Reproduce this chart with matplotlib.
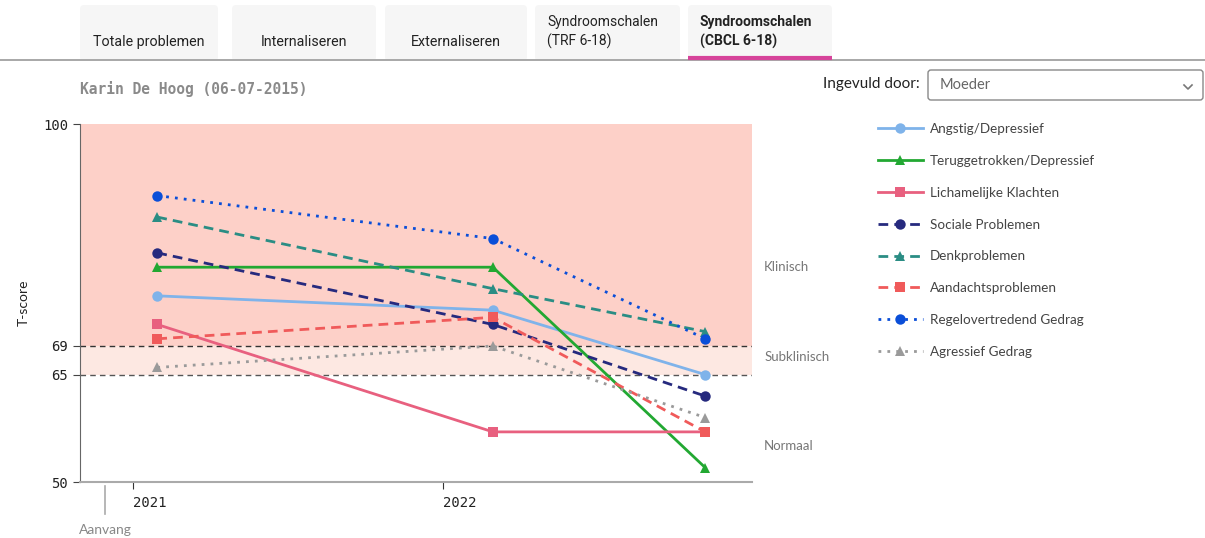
import matplotlib
matplotlib.use("Agg")
import matplotlib.pyplot as plt
import matplotlib.dates as mdates
from matplotlib.patches import FancyBboxPatch, Rectangle
import datetime as dt

# ---------------- data ----------------
dates = ["2021-01-30", "2022-03-01", "2022-11-06"]
start_date = "2020-11-30"  # "Aanvang"
series_names = ["Angstig/Depressief", "Teruggetrokken/Depressief", "Lichamelijke Klachten",
                "Sociale Problemen", "Denkproblemen", "Aandachtsproblemen",
                "Regelovertredend Gedrag", "Agressief Gedrag"]
angstig = [76, 74, 65]
teruggetrokken = [80, 80, 52]
lichamelijk = [72, 57, 57]
sociaal = [82, 72, 62]
denk = [87, 77, 71]
aandacht = [70, 73, 57]
regel = [90, 84, 70]
agressief = [66, 69, 59]
series_values = [angstig, teruggetrokken, lichamelijk, sociaal, denk, aandacht, regel, agressief]
y_ticks = [50, 65, 69, 100]
x_tick_labels = ["2021", "2022"]
zone_labels = ["Klinisch", "Subklinisch", "Normaal"]
tabs = ["Totale problemen", "Internaliseren", "Externaliseren",
        "Syndroomschalen\n(TRF 6-18)", "Syndroomschalen\n(CBCL 6-18)"]

colors = ["#7fb3ea", "#22a832", "#e8607f", "#262a7e", "#2a8d84", "#f05a5a", "#0a4ed8", "#9a9a9a"]
styles = ["-", "-", "-", (0, (3.5, 2.2)), (0, (3.5, 2.2)), (0, (3.5, 2.2)), (0, (1, 2.2)), (0, (1, 2.2))]
markers = ["o", "^", "s", "o", "^", "s", "o", "^"]

W, H = 1205, 538
fig = plt.figure(figsize=(W / 100, H / 100), dpi=100)

# background overlay in pixel coordinates
bg = fig.add_axes([0, 0, 1, 1], zorder=-5)
bg.set_xlim(0, W)
bg.set_ylim(H, 0)
bg.axis("off")

# tabs
tab_x = [(80, 218), (232, 376), (385, 527), (535, 680), (688, 832)]
for i, (t, (x0, x1)) in enumerate(zip(tabs, tab_x)):
    bg.add_patch(FancyBboxPatch((x0, 5), x1 - x0, 56, boxstyle="round,pad=0,rounding_size=4",
                                fc="#f6f6f6", ec="none"))
    bold = (i == len(tabs) - 1)
    if "\n" in t:
        bg.text(x0 + 12, 32, t, ha="left", va="center", fontsize=10, family="Roboto",
                color="#222", fontweight="bold" if bold else "normal", linespacing=1.45)
    else:
        bg.text((x0 + x1) / 2, 42, t, ha="center", va="center", fontsize=10.3, family="Roboto",
                color="#222")
bg.add_patch(Rectangle((0, 58.5), W, 2.5, fc="#ffffff", ec="none"))
bg.plot([0, W], [59.5, 59.5], color="#9a9a9a", lw=1.2)
bg.plot([688, 832], [57.5, 57.5], color="#d6449a", lw=3, solid_capstyle="butt")

# title
bg.text(80, 89, "Karin De Hoog (06-07-2015)", ha="left", va="center", fontsize=10.5,
        family="DejaVu Sans Mono", fontweight="bold", color="#8a8a8a")

# dropdown
bg.text(920, 84, "Ingevuld door:", ha="right", va="center", fontsize=11, family="Lato", color="#222")
bg.add_patch(FancyBboxPatch((928, 70), 275, 30, boxstyle="round,pad=0,rounding_size=3",
                            fc="white", ec="#888888", lw=1))
bg.text(940, 85, "Moeder", ha="left", va="center", fontsize=10.5, family="Lato", color="#666")
bg.plot([1184, 1188, 1192], [85, 89, 85], color="#777", lw=1.2)

# main axes
ax = fig.add_axes([80 / W, 1 - 482 / H, (752 - 80) / W, (482 - 124) / H])
ax.set_ylim(50, 100)
ax.set_xlim(mdates.date2num(dt.date(2020, 10, 31)), mdates.date2num(dt.date(2022, 12, 31)))
ax.axhspan(69, 100, color="#fdd0c8", lw=0, zorder=0)
ax.axhspan(65, 69, color="#fde8e2", lw=0, zorder=0)
ax.axhline(69, color="#333", lw=1, ls=(0, (4, 3)), zorder=1)
ax.axhline(65, color="#555", lw=1, ls=(0, (4, 3)), zorder=1)

xd = [mdates.date2num(dt.date.fromisoformat(d)) for d in dates]
handles = []
for name, vals, c, ls, m in zip(series_names, series_values, colors, styles, markers):
    ln, = ax.plot(xd, vals, color=c, ls=ls, lw=2, marker=m, markersize=7.5,
                  markeredgewidth=0, label=name, zorder=3)
    handles.append(ln)

for s in ["top", "right"]:
    ax.spines[s].set_visible(False)
ax.spines["left"].set_color("#666")
ax.spines["bottom"].set_color("#aaa")
ax.spines["bottom"].set_linewidth(1.5)
ax.set_yticks(y_ticks)
ax.set_yticklabels([str(v) for v in y_ticks], family="DejaVu Sans Mono", fontsize=10, color="#222")
ax.tick_params(axis="y", length=5, color="#444")
xt = [mdates.date2num(dt.date(int(y), 1, 1)) for y in x_tick_labels]
ax.set_xticks(xt)
ax.set_xticklabels(x_tick_labels, family="DejaVu Sans Mono", fontsize=10, color="#222")
ax.tick_params(axis="x", length=5, color="#333", pad=5)
for lab in ax.get_xticklabels():
    lab.set_horizontalalignment("left")
ax.set_ylabel("T-score", family="Lato", fontsize=10, color="#222", labelpad=6)
ax.yaxis.set_label_coords(-0.075, 0.5)

# Aanvang marker
sx = mdates.date2num(dt.date.fromisoformat(start_date))
trans = matplotlib.transforms.blended_transform_factory(ax.transData, ax.transAxes)
ax.plot([sx, sx], [-0.01, -0.09], color="#aaa", lw=1.2, transform=trans, clip_on=False)
ax.text(sx, -0.135, "Aanvang", transform=trans, ha="center", va="center", fontsize=10,
        family="Lato", color="#888")

# zone labels
zone_y = [80, 67.5, 55]
for lab, yv in zip(zone_labels, zone_y):
    ax.text(1.018, yv, lab, transform=matplotlib.transforms.blended_transform_factory(ax.transAxes, ax.transData),
            ha="left", va="center", fontsize=9.5, family="Lato", color="#777")

# legend
leg = fig.legend(handles=handles, loc="upper left", bbox_to_anchor=(866 / W, 1 - 111 / H),
                 frameon=False, labelspacing=1.47, handlelength=3.3,
                 handletextpad=0.55, prop={"family": "Lato", "size": 9.7})
for t in leg.get_texts():
    t.set_color("#444")

fig.savefig("out.png", dpi=100)
